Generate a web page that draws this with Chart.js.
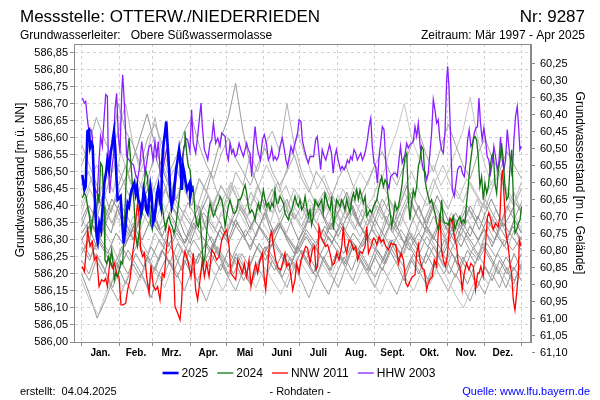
<!DOCTYPE html>
<html><head><meta charset="utf-8">
<script src="https://cdn.jsdelivr.net/npm/chart.js@4"></script>
<style>html,body{margin:0;padding:0;background:#fff}canvas{display:block}</style>
</head><body>
<canvas id="c" width="600" height="400"></canvas>
<script>
// --- data ---
const months=['Jan.','Feb.','Mrz.','Apr.','Mai','Juni','Juli','Aug.','Sept.','Okt.','Nov.','Dez.'];
const monthStart=[0,31,59,90,120,151,181,212,243,273,304,334,365];
const leftTicks=[586.00,586.05,586.10,586.15,586.20,586.25,586.30,586.35,586.40,586.45,586.50,586.55,586.60,586.65,586.70,586.75,586.80,586.85];
const rightTicks=[60.25,60.30,60.35,60.40,60.45,60.50,60.55,60.60,60.65,60.70,60.75,60.80,60.85,60.90,60.95,61.00,61.05,61.10];
const groundLevel=647.068; // m ü. NN, right axis = groundLevel - left

// [day of year, m ü. NN]
const y2025=[[0.5,586.491],[2.2,586.447],[3.3,586.457],[4.7,586.619],[6.1,586.624],[6.9,586.570],[8.3,586.584],[9.1,586.575],[10.2,586.467],[11.6,586.369],[12.4,586.310],[13.3,586.295],[14.6,586.349],[16.0,586.330],[17.4,586.398],[18.8,586.467],[20.2,586.496],[21.3,586.535],[22.7,586.506],[24.0,586.555],[25.4,586.584],[26.8,586.619],[27.9,586.565],[28.7,586.496],[29.8,586.418],[31.2,586.423],[32.3,586.428],[33.7,586.349],[34.8,586.290],[35.9,586.320],[37.3,586.379],[38.1,586.408],[39.3,586.398],[40.4,586.428],[41.5,586.447],[42.6,586.457],[43.7,586.467],[44.8,586.437],[45.9,586.457],[47.0,586.418],[48.1,586.408],[49.2,586.379],[50.3,586.398],[51.4,586.447],[52.5,586.428],[53.6,586.388],[54.7,586.379],[55.9,586.418],[57.0,586.457],[58.1,586.428],[59.2,586.349],[60.3,586.359],[61.4,586.398],[62.5,586.437],[63.6,586.457],[64.7,586.418],[65.8,586.398],[66.9,586.535],[68.0,586.584],[69.1,586.614],[70.2,586.648],[71.3,586.575],[72.5,586.506],[73.6,586.428],[74.7,586.398],[75.8,586.418],[76.9,586.457],[78.3,586.506],[79.6,586.535],[80.8,586.565],[81.8,586.535],[83.0,586.447],[84.1,586.516],[85.2,586.496],[86.3,586.467],[87.4,586.447],[88.5,586.457],[89.6,586.467],[90.1,586.428],[91.2,586.452],[92.0,586.440]];

const y2024=[[0.5,586.423],[2.2,586.437],[3.6,586.428],[4.9,586.398],[6.4,586.369],[7.7,586.320],[9.1,586.359],[10.5,586.398],[11.9,586.359],[13.3,586.437],[14.4,586.408],[15.7,586.526],[17.1,586.516],[18.5,586.398],[19.3,586.241],[20.7,586.231],[22.1,586.251],[23.5,586.231],[24.9,586.271],[26.3,586.222],[27.1,586.183],[28.2,586.202],[29.6,586.192],[31.2,586.212],[32.6,586.236],[34.0,586.231],[35.4,586.339],[36.8,586.467],[38.1,586.555],[39.3,586.599],[40.6,586.535],[42.0,586.467],[43.4,586.408],[44.8,586.310],[46.2,586.281],[47.6,586.320],[48.9,586.359],[50.3,586.379],[51.7,586.457],[53.1,586.506],[54.5,586.486],[55.9,586.418],[57.2,586.349],[58.6,586.330],[60.0,586.369],[61.4,586.379],[62.8,586.418],[64.2,586.437],[65.5,586.418],[66.9,586.398],[68.3,586.359],[69.7,586.330],[71.1,586.359],[72.5,586.369],[73.8,586.349],[75.2,586.339],[76.6,586.320],[78.0,586.339],[79.4,586.379],[80.8,586.418],[82.2,586.467],[83.5,586.516],[84.9,586.575],[85.7,586.619],[87.1,586.555],[88.5,586.516],[89.9,586.506],[91.2,586.457],[92.6,586.457],[94.0,586.379],[95.4,586.349],[96.8,586.339],[98.2,586.369],[99.5,586.300],[100.9,586.231],[102.3,586.251],[103.7,586.320],[105.1,586.379],[106.5,586.408],[107.9,586.388],[109.3,586.369],[110.6,586.379],[112.0,586.398],[113.4,586.408],[114.8,586.428],[116.2,586.418],[117.6,586.388],[119.0,586.339],[120.3,586.369],[121.7,586.398],[123.1,586.418],[124.5,586.398],[125.9,586.379],[127.2,586.379],[128.6,586.388],[130.0,586.418],[131.4,586.418],[132.8,586.428],[134.2,586.447],[135.6,586.462],[136.9,586.437],[138.3,586.398],[139.7,586.379],[141.1,586.388],[142.5,586.379],[143.9,586.359],[145.2,586.388],[146.6,586.408],[148.0,586.388],[149.4,586.418],[150.8,586.447],[152.2,586.418],[153.5,586.398],[154.9,586.408],[156.3,586.388],[157.7,586.408],[159.1,586.398],[160.4,586.447],[161.8,586.408],[163.2,586.408],[164.6,586.428],[166.0,586.418],[167.4,586.408],[168.7,586.379],[170.1,586.369],[171.5,586.359],[172.9,586.379],[174.3,586.388],[175.7,586.408],[177.0,586.428],[178.4,586.408],[179.8,586.398],[181.2,586.418],[182.6,586.388],[184.0,586.398],[185.4,586.428],[186.7,586.398],[188.1,586.369],[189.5,586.388],[190.8,586.344],[192.2,586.369],[193.6,586.418],[195.0,586.408],[196.4,586.398],[197.8,586.408],[199.1,586.418],[200.5,586.379],[201.9,586.437],[203.3,586.418],[204.7,586.398],[206.1,586.388],[207.5,586.428],[208.9,586.330],[210.2,586.379],[211.6,586.418],[213.0,586.408],[214.4,586.398],[215.8,586.418],[217.1,586.408],[218.5,586.388],[219.9,586.418],[221.3,586.398],[222.7,586.379],[224.1,586.418],[225.5,586.437],[226.8,586.418],[228.2,586.447],[229.6,586.418],[231.0,586.447],[232.4,586.428],[233.8,586.408],[235.2,586.428],[236.6,586.369],[237.9,586.379],[239.3,586.388],[240.7,586.379],[242.1,586.398],[243.5,586.408],[244.9,586.418],[246.3,586.447],[247.6,586.467],[249.0,586.486],[250.4,586.457],[251.8,586.477],[253.2,586.467],[254.6,586.418],[256.0,586.379],[257.3,586.339],[258.7,586.369],[260.1,586.408],[261.5,586.388],[262.9,586.398],[264.3,586.428],[265.7,586.457],[267.0,586.506],[268.4,586.545],[269.8,586.555],[271.1,586.418],[272.4,586.359],[273.8,586.408],[275.2,586.447],[276.6,586.428],[278.0,586.457],[279.4,586.516],[280.7,586.535],[282.1,586.575],[283.5,586.565],[284.9,586.477],[286.3,586.447],[287.6,586.428],[289.0,586.408],[290.4,586.418],[291.8,586.398],[293.2,586.379],[294.6,586.349],[295.9,586.330],[297.3,586.349],[298.7,586.418],[300.1,586.359],[301.5,586.349],[302.9,586.349],[304.2,586.344],[305.6,586.359],[307.0,586.354],[308.4,586.369],[309.8,586.330],[311.2,586.349],[312.5,586.359],[313.9,586.369],[315.3,586.349],[316.7,586.359],[318.1,586.349],[319.4,586.408],[320.8,586.457],[322.2,586.516],[323.6,586.555],[325.0,586.594],[326.4,586.604],[327.8,586.594],[329.1,586.545],[330.5,586.457],[331.9,586.486],[333.3,586.418],[334.7,586.467],[336.1,586.437],[337.5,586.457],[338.8,586.506],[340.2,586.545],[341.6,586.555],[343.0,586.467],[344.4,586.437],[345.8,586.506],[347.2,586.535],[348.5,586.584],[349.9,586.535],[351.3,586.457],[352.7,586.418],[354.1,586.428],[355.5,586.516],[356.9,586.565],[358.3,586.418],[359.6,586.320],[361.0,586.330],[362.4,586.349],[363.8,586.359],[365.0,586.398]];

const nnw2011=[[0.5,586.222],[2.2,586.207],[4.1,586.281],[4.9,586.330],[6.9,586.281],[8.8,586.295],[10.5,586.241],[12.4,586.251],[14.4,586.163],[16.6,586.183],[18.5,586.178],[19.9,586.187],[21.3,586.163],[23.5,586.241],[25.4,586.217],[27.1,586.231],[29.0,586.202],[30.9,586.192],[32.6,586.109],[34.5,586.109],[36.5,586.114],[38.1,586.153],[40.1,586.183],[42.0,586.251],[43.7,586.300],[45.1,586.369],[46.4,586.408],[47.6,586.369],[48.9,586.271],[50.6,586.251],[52.0,586.261],[53.9,586.192],[55.9,586.143],[57.5,586.227],[59.5,586.163],[61.4,586.153],[63.0,586.163],[65.0,586.124],[66.9,586.202],[68.6,586.192],[70.5,586.281],[72.5,586.339],[74.1,586.320],[76.1,586.241],[77.4,586.104],[79.6,586.085],[81.6,586.065],[83.0,586.124],[84.3,586.241],[85.7,586.266],[87.9,586.241],[90.7,586.192],[92.6,586.261],[94.6,586.153],[96.2,586.124],[98.2,586.183],[100.1,586.241],[101.8,586.192],[103.7,586.231],[105.7,586.192],[107.9,586.271],[109.8,586.261],[112.0,586.241],[114.0,586.251],[116.2,586.300],[118.4,586.320],[120.3,586.330],[122.3,586.281],[123.9,586.202],[125.9,586.192],[127.8,586.183],[129.5,586.241],[131.4,586.222],[133.3,586.202],[135.0,586.231],[136.9,586.192],[138.9,586.241],[140.5,586.163],[142.5,586.202],[144.4,586.231],[146.1,586.202],[148.0,586.241],[150.0,586.261],[151.6,586.183],[152.7,586.153],[154.4,586.222],[156.3,586.310],[157.7,586.325],[159.1,586.281],[161.0,586.241],[163.2,586.217],[165.2,586.212],[167.4,586.241],[168.7,586.261],[170.1,586.222],[172.1,586.231],[173.7,586.192],[175.1,586.153],[177.0,586.183],[178.4,586.231],[180.4,586.202],[182.0,586.241],[183.9,586.261],[185.9,586.281],[187.5,586.276],[189.5,586.231],[191.4,586.271],[193.1,586.281],[194.4,586.212],[195.8,586.222],[196.9,586.339],[198.6,586.310],[200.5,586.295],[202.5,586.281],[204.1,586.286],[206.1,586.261],[208.0,586.227],[209.7,586.231],[211.6,586.261],[213.6,586.241],[215.8,586.281],[217.1,586.339],[218.5,586.281],[219.9,586.261],[221.9,586.300],[223.5,586.295],[225.5,586.271],[227.4,586.281],[229.1,586.241],[231.0,586.266],[233.0,586.261],[235.2,586.281],[236.6,586.339],[238.0,586.261],[240.2,586.281],[242.1,586.305],[243.5,586.300],[244.9,586.286],[246.8,586.310],[248.5,586.295],[250.4,586.300],[252.4,586.281],[254.6,586.271],[256.8,586.290],[258.8,586.286],[260.7,586.286],[262.9,586.231],[265.1,586.261],[267.0,586.241],[269.0,586.173],[270.6,586.163],[272.4,586.178],[274.4,586.192],[276.6,586.197],[278.0,586.261],[279.4,586.286],[280.7,586.241],[282.7,586.217],[284.3,586.212],[286.3,586.153],[287.6,586.173],[289.0,586.183],[291.0,586.192],[292.6,586.241],[294.6,586.222],[295.9,586.320],[297.3,586.379],[298.7,586.271],[300.1,586.241],[302.0,586.222],[303.7,586.261],[305.6,586.364],[307.6,586.359],[309.2,586.310],[311.2,586.281],[312.5,586.231],[313.9,586.222],[315.8,586.153],[317.5,586.202],[319.4,586.231],[321.4,586.212],[323.0,586.231],[325.0,586.222],[326.9,586.153],[328.6,586.202],[329.7,586.202],[331.3,586.222],[333.2,586.192],[335.2,586.290],[336.8,586.369],[337.9,586.379],[339.6,586.359],[341.5,586.330],[343.5,586.349],[345.7,586.339],[347.1,586.369],[348.5,586.486],[349.3,586.506],[350.7,586.418],[352.1,586.320],[354.0,586.281],[355.7,586.222],[356.8,586.202],[358.2,586.124],[359.6,586.094],[361.0,586.143],[362.4,586.202],[363.2,586.300],[364.6,586.281]];

const hhw2003=[[0.5,586.717],[2.2,586.702],[3.3,586.707],[4.9,586.648],[6.1,586.619],[7.7,586.624],[8.8,586.604],[10.5,586.457],[11.9,586.442],[13.0,586.437],[14.4,586.535],[15.7,586.604],[17.1,586.575],[18.5,586.653],[19.9,586.727],[21.3,586.722],[22.1,586.535],[23.2,586.437],[24.9,586.506],[26.3,586.545],[27.6,586.682],[29.0,586.731],[30.4,586.604],[31.8,586.555],[33.2,586.731],[34.0,586.785],[35.4,586.702],[37.3,586.545],[39.3,586.535],[40.9,586.526],[42.9,586.521],[44.8,586.491],[46.4,586.477],[48.1,586.516],[49.8,586.589],[51.1,586.550],[52.5,586.496],[53.9,586.526],[55.9,586.575],[57.5,586.580],[59.2,586.535],[60.8,586.589],[62.2,586.545],[63.6,586.589],[65.3,586.486],[66.9,586.491],[68.6,586.535],[70.5,586.565],[71.9,586.575],[73.8,586.437],[75.2,586.408],[76.8,586.418],[78.8,586.506],[80.2,586.555],[81.8,586.526],[83.5,586.545],[85.1,586.575],[86.5,586.599],[87.9,586.594],[89.8,586.560],[91.2,586.682],[92.6,586.584],[94.6,586.555],[96.2,586.604],[97.6,586.653],[99.0,586.702],[100.1,586.633],[101.8,586.565],[102.9,586.555],[104.6,586.535],[106.5,586.584],[107.9,586.594],[109.3,586.643],[111.2,586.584],[112.9,586.599],[114.8,586.575],[116.2,586.614],[117.6,586.609],[119.0,586.604],[120.3,586.555],[121.7,586.535],[123.1,586.584],[124.5,586.555],[125.9,586.565],[127.2,586.545],[128.6,586.550],[130.6,586.584],[132.2,586.565],[134.2,586.545],[135.6,586.565],[136.9,586.584],[138.3,586.565],[139.7,586.555],[141.1,586.486],[142.5,586.575],[143.9,586.633],[145.2,586.584],[146.6,586.555],[148.3,586.535],[150.0,586.594],[151.6,586.609],[153.3,586.584],[154.9,586.535],[156.3,586.545],[157.7,586.570],[159.1,586.535],[160.4,586.545],[161.8,586.535],[163.2,586.545],[164.6,586.575],[166.5,586.599],[168.2,586.565],[169.5,586.535],[170.9,586.516],[172.3,586.545],[173.7,586.575],[175.4,586.555],[177.0,586.584],[179.2,586.614],[180.4,586.653],[182.0,586.648],[183.1,586.594],[184.8,586.565],[186.7,586.540],[188.1,586.526],[189.5,586.545],[190.8,586.545],[192.5,586.545],[194.1,586.594],[195.5,586.604],[196.9,586.555],[198.3,586.506],[199.6,586.565],[201.3,586.545],[202.6,586.535],[204.0,586.555],[205.7,586.580],[207.3,586.555],[208.7,586.496],[210.1,586.545],[211.4,586.565],[212.8,586.535],[214.8,586.506],[216.1,586.516],[217.8,586.506],[219.1,586.516],[220.5,586.535],[221.9,586.526],[223.3,586.545],[224.6,586.535],[226.0,586.565],[227.4,586.555],[228.8,586.535],[230.2,586.545],[231.6,586.555],[233.0,586.535],[234.3,586.545],[235.7,586.565],[237.1,586.594],[238.5,586.633],[239.9,586.658],[241.2,586.575],[242.6,586.526],[244.0,586.516],[245.4,586.467],[246.8,586.545],[248.1,586.584],[249.5,586.633],[250.9,586.624],[252.3,586.535],[253.6,586.467],[255.0,586.452],[256.4,586.486],[257.8,586.491],[259.1,586.496],[260.5,586.496],[261.9,586.486],[263.3,586.535],[264.6,586.575],[266.0,586.526],[268.3,586.550],[269.7,586.584],[271.1,586.570],[272.4,586.580],[273.8,586.584],[275.2,586.589],[276.6,586.633],[278.0,586.604],[279.4,586.643],[280.7,586.584],[282.1,586.535],[283.5,586.506],[284.9,586.501],[286.3,586.477],[287.6,586.496],[289.0,586.555],[290.4,586.614],[291.8,586.712],[293.2,586.682],[294.6,586.643],[295.9,586.653],[297.3,586.594],[298.7,586.565],[300.1,586.555],[301.5,586.614],[302.9,586.771],[303.7,586.810],[304.8,586.751],[306.2,586.594],[307.6,586.447],[309.2,586.428],[310.6,586.467],[312.0,586.506],[313.4,586.516],[314.7,586.516],[316.1,586.496],[317.5,586.486],[318.9,586.526],[320.3,586.594],[321.6,586.624],[323.0,586.575],[324.4,586.584],[325.8,586.614],[327.2,586.629],[328.5,586.633],[329.7,586.717],[331.0,586.643],[332.4,586.594],[333.8,586.629],[335.2,586.594],[336.5,586.545],[337.9,586.535],[339.3,586.496],[340.7,586.526],[342.1,586.575],[343.5,586.545],[344.9,586.506],[346.2,586.526],[347.6,586.602],[349.0,586.535],[350.4,586.506],[351.8,586.535],[353.2,586.624],[354.5,586.575],[355.9,586.526],[357.3,586.486],[358.7,586.594],[360.1,586.663],[361.5,586.692],[362.6,586.633],[363.7,586.565],[364.8,586.575]];

// other years 1997-2023, each read at even steps from Jan 1 to Dec 31
const hist01=[586.52,586.58,586.66,586.60,586.55,586.70,586.62,586.58,586.52,586.60,586.64,586.58,586.50,586.55,586.62,586.66,586.58,586.52,586.48,586.55,586.60,586.54,586.50,586.46,586.52,586.57,586.50,586.46,586.50,586.55,586.48,586.44,586.50,586.47,586.42,586.48,586.52,586.46,586.42,586.47,586.52,586.56,586.50,586.46,586.52,586.58,586.62,586.55,586.50,586.57,586.64,586.58,586.52,586.48,586.55,586.60,586.54,586.50,586.56,586.52,586.48];
const hist02=[586.38,586.45,586.40,586.50,586.44,586.56,586.48,586.42,586.50,586.46,586.40,586.47,586.52,586.45,586.40,586.48,586.44,586.38,586.42,586.47,586.41,586.36,586.43,586.40,586.35,586.42,586.46,586.40,586.36,586.42,586.38,586.44,586.40,586.35,586.41,586.45,586.39,586.42,586.48,586.43,586.38,586.45,586.50,586.44,586.40,586.47,586.52,586.46,586.42,586.48,586.44,586.40,586.46,586.50,586.44,586.40,586.45];
const hist03=[586.30,586.34,586.28,586.36,586.32,586.40,586.35,586.30,586.37,586.42,586.36,586.31,586.38,586.34,586.29,586.35,586.40,586.33,586.28,586.34,586.30,586.36,586.32,586.27,586.33,586.38,586.31,586.35,586.30,586.26,586.32,586.37,586.33,586.29,586.35,586.31,586.36,586.40,586.34,586.30,586.36,586.32,586.38,586.34,586.29,586.35,586.40,586.34,586.30,586.36,586.33,586.29,586.35,586.31,586.37,586.33,586.28,586.34,586.30,586.36,586.32];
const hist04=[586.18,586.12,586.08,586.15,586.20,586.16,586.22,586.18,586.24,586.20,586.16,586.23,586.28,586.22,586.18,586.24,586.20,586.15,586.21,586.26,586.20,586.16,586.22,586.18,586.14,586.20,586.25,586.21,586.17,586.23,586.19,586.25,586.21,586.17,586.22,586.18,586.14,586.20,586.24,586.19,586.15,586.21,586.17,586.23,586.19,586.14,586.10,586.16,586.21,586.17,586.23,586.19,586.15,586.21];
const hist05=[586.34,586.40,586.36,586.44,586.38,586.46,586.52,586.45,586.40,586.48,586.55,586.48,586.42,586.50,586.46,586.40,586.48,586.44,586.52,586.60,586.66,586.76,586.62,586.52,586.46,586.40,586.45,586.38,586.42,586.36,586.40,586.35,586.41,586.37,586.33,586.38,586.43,586.38,586.34,586.40,586.36,586.42,586.38,586.33,586.39,586.44,586.39,586.35,586.41,586.37,586.32,586.38,586.34,586.40,586.36,586.42,586.38,586.34,586.40,586.36,586.41];
const hist06=[586.26,586.31,586.27,586.33,586.29,586.24,586.30,586.35,586.30,586.26,586.32,586.28,586.34,586.30,586.26,586.32,586.38,586.33,586.40,586.46,586.42,586.50,586.46,586.55,586.50,586.58,586.62,586.56,586.70,586.58,586.50,586.45,586.40,586.44,586.38,586.34,586.39,586.35,586.31,586.36,586.32,586.28,586.34,586.30,586.26,586.32,586.28,586.33,586.29,586.25,586.31,586.27,586.33,586.29,586.25,586.31,586.36,586.31,586.27,586.33,586.29];
const hist07=[586.20,586.14,586.07,586.12,586.18,586.24,586.20,586.26,586.22,586.28,586.24,586.30,586.26,586.21,586.27,586.23,586.29,586.25,586.21,586.27,586.23,586.18,586.24,586.29,586.25,586.21,586.26,586.22,586.28,586.24,586.20,586.26,586.31,586.27,586.23,586.29,586.25,586.21,586.27,586.32,586.28,586.24,586.30,586.26,586.22,586.28,586.24,586.30,586.26,586.21,586.27,586.23,586.29,586.25,586.21,586.16,586.22,586.18];
const hist08=[586.36,586.32,586.38,586.34,586.40,586.36,586.31,586.37,586.33,586.39,586.35,586.41,586.37,586.33,586.39,586.35,586.30,586.36,586.32,586.38,586.34,586.40,586.36,586.32,586.38,586.34,586.30,586.36,586.41,586.37,586.33,586.39,586.35,586.41,586.37,586.43,586.39,586.45,586.50,586.46,586.52,586.48,586.56,586.62,586.70,586.60,586.54,586.48,586.52,586.46,586.50,586.56,586.62,586.72,586.60,586.52,586.46,586.50,586.44,586.40,586.45];
const hist09=[586.24,586.20,586.26,586.22,586.16,586.12,586.18,586.14,586.20,586.16,586.22,586.18,586.24,586.20,586.15,586.21,586.17,586.12,586.18,586.23,586.19,586.15,586.21,586.17,586.22,586.18,586.24,586.20,586.16,586.22,586.18,586.13,586.19,586.24,586.20,586.16,586.22,586.18,586.24,586.20,586.16,586.22,586.18,586.14,586.20,586.25,586.21,586.17,586.23,586.19,586.15,586.20,586.16,586.12,586.18,586.14,586.20,586.16,586.22,586.18,586.23];
const hist10=[586.32,586.36,586.30,586.26,586.32,586.28,586.34,586.30,586.36,586.32,586.28,586.33,586.29,586.35,586.31,586.27,586.33,586.29,586.35,586.31,586.36,586.32,586.28,586.34,586.30,586.26,586.31,586.27,586.33,586.29,586.35,586.31,586.27,586.32,586.28,586.24,586.30,586.26,586.32,586.28,586.34,586.30,586.26,586.32,586.28,586.34,586.30,586.36,586.32,586.28,586.34,586.30];
const hist11=[586.40,586.46,586.52,586.48,586.56,586.62,586.70,586.58,586.50,586.56,586.66,586.55,586.48,586.42,586.48,586.44,586.38,586.44,586.40,586.46,586.42,586.38,586.44,586.40,586.46,586.42,586.38,586.43,586.39,586.45,586.41,586.37,586.42,586.38,586.44,586.40,586.36,586.42,586.38,586.34,586.40,586.36,586.42,586.38,586.44,586.40,586.36,586.42,586.48,586.43,586.39,586.45,586.41,586.47,586.43,586.39,586.45,586.50,586.45,586.41,586.47];
const hist12=[586.28,586.24,586.30,586.26,586.22,586.28,586.24,586.29,586.25,586.21,586.27,586.23,586.29,586.25,586.30,586.26,586.22,586.28,586.24,586.20,586.26,586.22,586.28,586.24,586.30,586.26,586.22,586.28,586.24,586.29,586.25,586.21,586.27,586.23,586.29,586.25,586.21,586.27,586.23,586.29,586.25,586.31,586.27,586.23,586.28,586.24,586.20,586.26,586.22,586.28,586.24,586.20,586.26,586.22,586.17,586.23];
const hist13=[586.58,586.52,586.46,586.40,586.35,586.41,586.37,586.32,586.38,586.34,586.40,586.45,586.39,586.35,586.41,586.37,586.33,586.39,586.44,586.38,586.34,586.40,586.36,586.31,586.37,586.42,586.36,586.32,586.38,586.34,586.39,586.35,586.31,586.37,586.42,586.37,586.33,586.39,586.35,586.40,586.36,586.32,586.38,586.43,586.38,586.34,586.40,586.36,586.31,586.37,586.33,586.39,586.35,586.41,586.37,586.33,586.39,586.44,586.38];
const hist14=[586.26,586.30,586.24,586.20,586.26,586.22,586.17,586.23,586.19,586.25,586.21,586.27,586.23,586.19,586.24,586.20,586.26,586.22,586.28,586.24,586.19,586.25,586.21,586.17,586.23,586.28,586.24,586.20,586.26,586.22,586.27,586.23,586.19,586.25,586.21,586.26,586.22,586.28,586.24,586.20,586.25,586.21,586.27,586.23,586.18,586.24,586.20,586.26,586.22,586.27,586.23,586.19,586.25,586.21,586.16,586.22,586.18,586.24,586.20,586.26,586.21];
const hist15=[586.36,586.40,586.33,586.30,586.37,586.42,586.39,586.34,586.31,586.36,586.41,586.45,586.38,586.33,586.35,586.40,586.37,586.32,586.29,586.34,586.39,586.43,586.38,586.35,586.31,586.36,586.40,586.37,586.33,586.38,586.42,586.36,586.32,586.35,586.39,586.34,586.30,586.33,586.38,586.41,586.37,586.33,586.36,586.40,586.44,586.39,586.35,586.32,586.37,586.42,586.38,586.34,586.36,586.41,586.46,586.40,586.36,586.33,586.38,586.43,586.39,586.35,586.31,586.36,586.40,586.37,586.33,586.38,586.42,586.38,586.34,586.37,586.41,586.38];
const hist16=[586.30,586.25,586.31,586.27,586.22,586.29,586.33,586.27,586.24,586.30,586.26,586.32,586.28,586.23,586.27,586.31,586.26,586.22,586.28,586.33,586.29,586.25,586.30,586.26,586.21,586.27,586.32,586.28,586.24,586.29,586.34,586.30,586.26,586.31,586.27,586.23,586.28,586.33,586.29,586.25,586.31,586.27,586.22,586.28,586.32,586.27,586.24,586.29,586.25,586.30,586.27,586.31];
const hist17=[586.46,586.50,586.44,586.40,586.47,586.53,586.48,586.43,586.49,586.45,586.41,586.47,586.52,586.46,586.42,586.48,586.44,586.39,586.45,586.50,586.44,586.40,586.46,586.42,586.38,586.44,586.40,586.36,586.42,586.47,586.41,586.37,586.43,586.39,586.35,586.40,586.36,586.41,586.37,586.33,586.38,586.34,586.39,586.35,586.31,586.37,586.33,586.38,586.34,586.30,586.36,586.32,586.37,586.33,586.29,586.35,586.31,586.36,586.32,586.28,586.34,586.30,586.35,586.31,586.36,586.32];
const hist18=[586.22,586.18,586.25,586.21,586.16,586.22,586.27,586.23,586.19,586.13,586.20,586.25,586.21,586.27,586.23,586.18,586.24,586.29,586.25,586.20,586.26,586.22,586.17,586.23,586.28,586.24,586.19,586.25,586.21,586.27,586.23,586.18,586.14,586.20,586.25,586.21,586.27,586.23,586.19,586.24,586.30,586.25,586.21,586.26,586.22,586.18,586.24,586.20,586.26,586.22,586.17,586.23,586.28,586.24,586.20,586.25,586.21,586.26];
const hist19=[586.36,586.33,586.38,586.42,586.37,586.34,586.39,586.35,586.31,586.37,586.41,586.36,586.33,586.38,586.43,586.39,586.35,586.31,586.36,586.40,586.37,586.33,586.38,586.42,586.46,586.41,586.37,586.42,586.47,586.52,586.48,586.44,586.50,586.56,586.61,586.55,586.50,586.45,586.49,586.44,586.40,586.45,586.41,586.37,586.42,586.38,586.34,586.39,586.43,586.38,586.34,586.40,586.36,586.32,586.37,586.41,586.37,586.33,586.38,586.34,586.40,586.36,586.42,586.38,586.34,586.39,586.35,586.40,586.37,586.33];
const hist20=[586.30,586.35,586.31,586.38,586.44,586.50,586.58,586.67,586.56,586.48,586.42,586.37,586.33,586.38,586.34,586.30,586.36,586.32,586.28,586.34,586.30,586.35,586.31,586.27,586.33,586.29,586.34,586.30,586.26,586.32,586.28,586.33,586.29,586.35,586.31,586.27,586.32,586.28,586.34,586.30,586.36,586.32,586.28,586.33,586.29,586.35,586.31,586.27];
const histYears=[hist01,hist02,hist03,hist04,hist05,hist06,hist07,hist08,hist09,hist10,hist11,hist12,hist13,hist14,hist15,hist16,hist17,hist18,hist19,hist20];
const grayShades=['#a8a8a8','#bdbdbd','#8e8e8e','#c4c4c4','#9c9c9c','#b3b3b3','#959595','#c8c8c8','#a2a2a2','#878787','#b8b8b8','#9a9a9a','#acacac','#909090','#8a8a8a','#a0a0a0','#b0b0b0','#989898','#c0c0c0','#939393'];

// --- chart ---
const FONT='"Liberation Sans", Arial, sans-serif';
Chart.defaults.font.family=FONT;
Chart.defaults.color='#000';
const fmt=v=>v.toFixed(2).replace('.',',');
const monthMid=months.map((m,i)=>(monthStart[i]+monthStart[i+1])/2);
const isMid=c=>c.tick&&monthMid.includes(c.tick.value);
const pts=a=>a.map(p=>({x:p[0],y:p[1]}));
const line=(label,data,color,w)=>({label,data:pts(data),borderColor:color,borderWidth:w,pointRadius:0,tension:0,fill:false});
const histLine=(h,i)=>({label:'',data:h.map((v,k)=>({x:k*365/(h.length-1),y:v})),borderColor:grayShades[i],borderWidth:1,pointRadius:0,tension:0,fill:false});

const datasets=[
  line('2025',y2025,'#0000ff',2.6),
  line('2024',y2024,'#127512',1.3),
  line('NNW 2011',nnw2011,'#ff0000',1.3),
  line('HHW 2003',hhw2003,'#8a1fff',1.3),
  ...histYears.map(histLine)
];
const legendCount=4;

const decor={id:'decor',
  beforeDraw(c){const x=c.ctx;x.save();x.fillStyle='#fff';x.fillRect(0,0,c.width,c.height);x.restore();},
  afterDraw(c){
    const x=c.ctx,a=c.chartArea;
    x.save();
    x.strokeStyle='#8a8a8a';x.lineWidth=1;
    x.strokeRect(Math.round(a.left)+.5,Math.round(a.top)+.5,Math.round(a.right-a.left)-1,Math.round(a.bottom-a.top));
    x.fillStyle='#000';x.textBaseline='alphabetic';
    x.font='17px '+FONT;x.textAlign='left';x.fillText('Messstelle: OTTERW./NIEDERRIEDEN',20,22);
    x.textAlign='right';x.fillText('Nr: 9287',585,22);
    x.font='12px '+FONT;x.textAlign='left';x.fillText('Grundwasserleiter:   Obere Süßwassermolasse',20,39);
    x.textAlign='right';x.fillText('Zeitraum: Mär 1997 - Apr 2025',585,39);
    // axis titles
    x.textAlign='center';x.textBaseline='middle';
    x.save();x.translate(21,180);x.rotate(-Math.PI/2);x.fillText('Grundwasserstand [m ü. NN]',0,0);x.restore();
    x.save();x.translate(579,183);x.rotate(Math.PI/2);x.fillText('Grundwasserstand [m u. Gelände]',0,0);x.restore();
    // legend
    x.font='12px '+FONT;
    const items=c.data.datasets.slice(0,legendCount);
    const seg=16,gap=3,sp=9;
    let tot=0;items.forEach(d=>tot+=seg+gap+x.measureText(d.label).width);tot+=sp*(items.length-1);
    let px=299-tot/2;const ly=373;
    items.forEach(d=>{
      x.strokeStyle=d.borderColor;x.lineWidth=d.borderWidth;
      x.beginPath();x.moveTo(px,ly);x.lineTo(px+seg,ly);x.stroke();
      px+=seg+gap;x.textAlign='left';x.textBaseline='middle';x.fillStyle='#000';
      x.fillText(d.label,px,ly+1);px+=x.measureText(d.label).width+sp;
    });
    // footer
    x.textBaseline='alphabetic';x.font='11px '+FONT;
    x.textAlign='left';x.fillText('erstellt:  04.04.2025',20,395);
    x.textAlign='center';x.fillText('- Rohdaten -',300,395);
    x.textAlign='right';x.fillStyle='#0000ff';x.fillText('Quelle: www.lfu.bayern.de',590,395);
    x.restore();
  }};

const lMin=leftTicks[0], lMax=586.8756;
new Chart(document.getElementById('c'),{
  type:'line',
  data:{datasets},
  options:{
    responsive:false,animation:false,devicePixelRatio:1,
    layout:{padding:{top:44,bottom:38,left:0,right:0}},
    plugins:{legend:{display:false},tooltip:{enabled:false}},
    scales:{
      x:{type:'linear',min:-6.4,max:372.9,
        afterBuildTicks:s=>{s.ticks=[...monthStart,...monthMid].sort((a,b)=>a-b).map(v=>({value:v}));},
        afterFit:s=>{s.height=20;},
        ticks:{autoSkip:false,maxRotation:0,padding:1,font:{size:10,weight:'bold'},
          callback:v=>{const i=monthMid.indexOf(v);return i<0?'':months[i];}},
        grid:{color:c=>isMid(c)?'rgba(0,0,0,0)':'#d2d2d2',tickColor:c=>isMid(c)?'rgba(0,0,0,0)':'#8a8a8a',tickLength:4,tickBorderDash:[]},
        border:{color:'#8a8a8a',dash:[3,3]}
      },
      y:{type:'linear',position:'left',min:lMin,max:lMax,
        afterBuildTicks:s=>{s.ticks=leftTicks.map(v=>({value:v}));},
        afterFit:s=>{s.width=74;},
        ticks:{autoSkip:false,padding:2,font:{size:11},callback:v=>fmt(v)},
        grid:{color:'#d2d2d2',tickColor:'#8a8a8a',tickLength:4,tickBorderDash:[]},
        border:{color:'#8a8a8a',dash:[3,3]}
      },
      y2:{type:'linear',position:'right',reverse:true,min:groundLevel-lMax,max:groundLevel-lMin,
        afterBuildTicks:s=>{s.ticks=rightTicks.map(v=>({value:v}));},
        afterFit:s=>{s.width=69;},
        ticks:{autoSkip:false,padding:5,font:{size:11},callback:v=>fmt(v)},
        grid:{drawOnChartArea:false,tickColor:'#8a8a8a',tickLength:4,tickBorderDash:[]},
        border:{color:'#8a8a8a'}
      }
    }
  },
  plugins:[decor]
});
</script>
</body></html>
